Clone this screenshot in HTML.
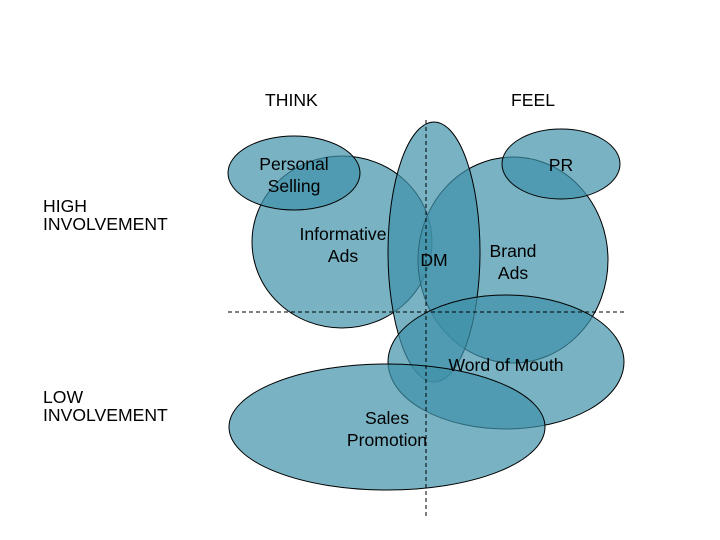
<!DOCTYPE html>
<html><head><style>
body{margin:0;background:#fff;}
svg{display:block;}
text{font-family:"Liberation Sans",Arial,sans-serif;font-size:17.6px;fill:#000;}
</style></head><body>
<svg width="720" height="540" viewBox="0 0 720 540">
<g fill="#3f92aa" fill-opacity="0.7" stroke="#000" stroke-width="1">
<ellipse cx="342" cy="242" rx="90" ry="86"/>
<ellipse cx="294" cy="173" rx="66" ry="37"/>
<ellipse cx="513" cy="260" rx="95" ry="103"/>
<ellipse cx="434" cy="252" rx="46" ry="130"/>
<ellipse cx="561" cy="164" rx="59" ry="35"/>
<ellipse cx="506" cy="362" rx="118" ry="67"/>
<ellipse cx="387" cy="427" rx="158" ry="63"/>
</g>
<g stroke="#000" stroke-dasharray="4,3" stroke-width="1">
<line x1="426" y1="120" x2="426" y2="516"/>
<line x1="228" y1="312" x2="626" y2="312"/>
</g>
<text x="265" y="106">THINK</text>
<text x="511" y="106">FEEL</text>
<text x="43" y="212">HIGH</text>
<text x="43" y="230">INVOLVEMENT</text>
<text x="43" y="403">LOW</text>
<text x="43" y="421">INVOLVEMENT</text>
<text x="294" y="170" text-anchor="middle">Personal</text>
<text x="294" y="192" text-anchor="middle">Selling</text>
<text x="343" y="240" text-anchor="middle">Informative</text>
<text x="343" y="262" text-anchor="middle">Ads</text>
<text x="434" y="266" text-anchor="middle">DM</text>
<text x="513" y="257" text-anchor="middle">Brand</text>
<text x="513" y="279" text-anchor="middle">Ads</text>
<text x="561" y="171" text-anchor="middle">PR</text>
<text x="506" y="371" text-anchor="middle">Word of Mouth</text>
<text x="387" y="424" text-anchor="middle">Sales</text>
<text x="387" y="446" text-anchor="middle">Promotion</text>
</svg>
</body></html>
